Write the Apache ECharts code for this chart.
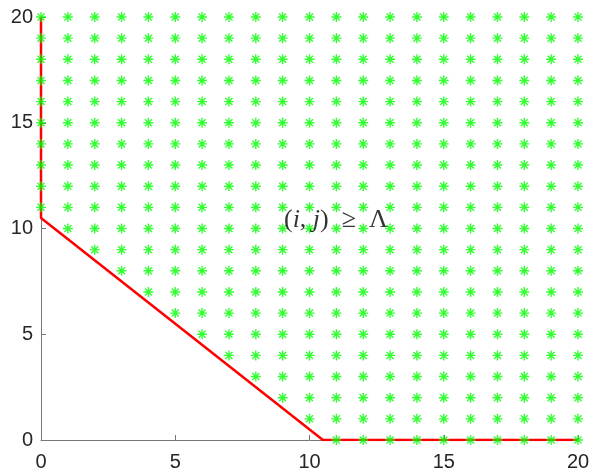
<!DOCTYPE html>
<html>
<head>
<meta charset="utf-8">
<script src="https://cdn.jsdelivr.net/npm/echarts@6/dist/echarts.min.js"></script>
<style>
  html, body { margin: 0; padding: 0; background: #fff; }
  #chart { width: 594px; height: 476px; }
</style>
</head>
<body>
<div id="chart"></div>
<script>
// columns i = 0..20, lowest j that gets a marker (up to 20)
const colIndex = [0, 1, 2, 3, 4, 5, 6, 7, 8, 9, 10, 11, 12, 13, 14, 15, 16, 17, 18, 19, 20];
const colStart = [11, 10, 9, 8, 7, 6, 5, 4, 3, 2, 1, 0, 0, 0, 0, 0, 0, 0, 0, 0, 0];
const rowTop = 20;
// red boundary
const boundary = [[0, 20], [0, 10.5], [10.5, 0], [20, 0]];
const textPos = [9.05, 10.4];

const points = [];
colIndex.forEach((i, k) => {
  for (let j = colStart[k]; j <= rowTop; j++) points.push([i, j]);
});

const chart = echarts.init(document.getElementById('chart'));
const axisBase = {
  type: 'value', min: 0, max: 20, interval: 5,
  axisLine: { show: true, lineStyle: { color: '#777', width: 1 } },
  axisTick: { show: true, inside: true, length: 5, lineStyle: { color: '#777' } },
  axisLabel: { color: '#262626', fontSize: 20, fontFamily: 'Liberation Sans, Arial, sans-serif' },
  splitLine: { show: false }
};

chart.setOption({
  animation: false,
  grid: { left: 41, right: 16, top: 17, bottom: 36, containLabel: false },
  xAxis: Object.assign({}, axisBase, { axisLabel: Object.assign({}, axisBase.axisLabel, { margin: 12 }) }),
  yAxis: Object.assign({}, axisBase, { axisLabel: Object.assign({}, axisBase.axisLabel, { margin: 8 }) }),
  series: [
    {
      type: 'line',
      data: boundary,
      symbol: 'none',
      lineStyle: { color: '#ff0000', width: 2.5 },
      z: 2
    },
    {
      type: 'scatter',
      data: points,
      symbol: 'path://M5 0L5 10M0 5L10 5M1.5 1.5L8.5 8.5M8.5 1.5L1.5 8.5',
      symbolSize: 10,
      itemStyle: { color: 'none', borderColor: '#00ff00', borderWidth: 1.4 },
      z: 3
    },
    {
      type: 'scatter',
      data: [textPos],
      symbolSize: 0,
      z: 4,
      label: {
        show: true,
        position: 'right',
        distance: 0,
        formatter: '{n|(}{it|i}{n|, }{it|j}{n|)  ≥  Λ}',
        rich: {
          n: { fontFamily: 'Liberation Serif, serif', fontSize: 26, color: '#000' },
          it: { fontFamily: 'Liberation Serif, serif', fontStyle: 'italic', fontSize: 26, color: '#000' }
        }
      }
    }
  ]
});
</script>
</body>
</html>
